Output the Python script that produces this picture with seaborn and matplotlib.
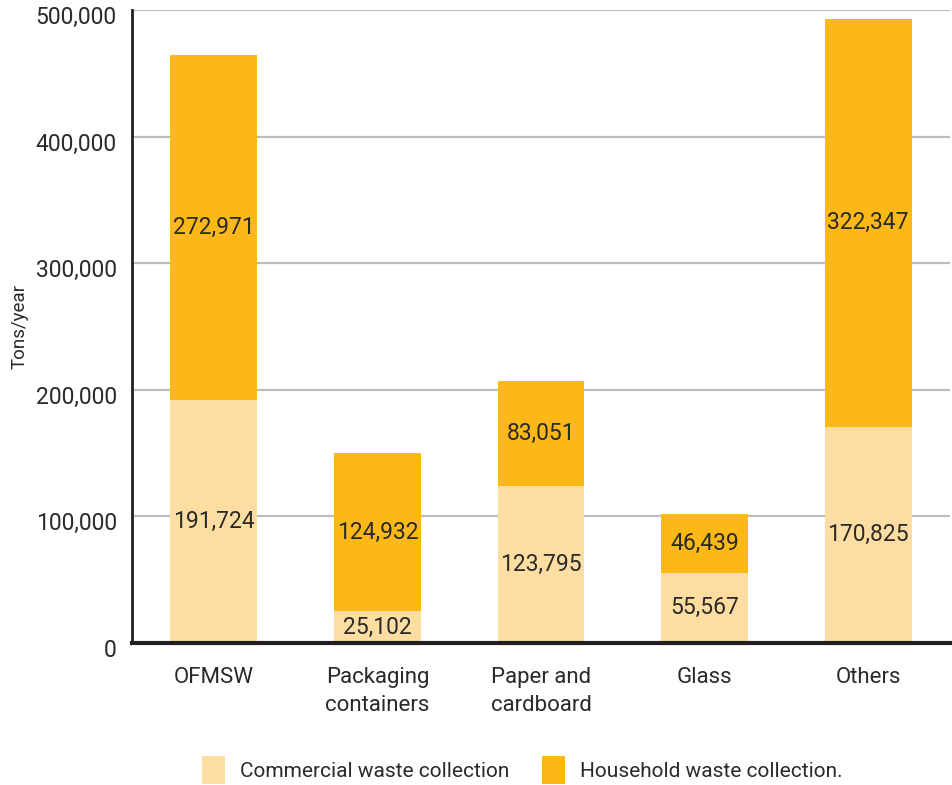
import matplotlib
matplotlib.use("Agg")
import matplotlib.pyplot as plt
import matplotlib.transforms as mtransforms
import seaborn as sns
import pandas as pd
from matplotlib.patches import Patch
from matplotlib.ticker import FuncFormatter

categories = ["OFMSW", "Packaging\ncontainers", "Paper and\ncardboard", "Glass", "Others"]
commercial = [191724, 25102, 123795, 55567, 170825]
household = [272971, 124932, 83051, 46439, 322347]
y_ticks = [0, 100000, 200000, 300000, 400000, 500000]

light = "#FDDDA1"
dark = "#FBB817"
text_color = "#2B2A29"

sns.set_theme(style="white")
plt.rcParams["font.family"] = ["Roboto", "DejaVu Sans"]

df = pd.DataFrame({
    "category": categories,
    "commercial": commercial,
    "household": household,
})
df["total"] = df["commercial"] + df["household"]

fig = plt.figure(figsize=(9.53, 7.85), dpi=100)
ax = fig.add_axes([0.1385, 0.1809, 0.8584, 0.8064])

for y in y_ticks[1:]:
    ax.axhline(y, color="#BDBDBD", linewidth=1.6, zorder=0)

sns.barplot(data=df, x="category", y="total", color=dark, width=0.53,
            saturation=1, linewidth=0, ax=ax, zorder=2)
sns.barplot(data=df, x="category", y="commercial", color=light, width=0.53,
            saturation=1, linewidth=0, ax=ax, zorder=3)

for i, (c, h) in enumerate(zip(commercial, household)):
    ax.text(i, c / 2, f"{c:,}", ha="center", va="center", fontsize=16.5,
            color=text_color, zorder=4)
    ax.text(i, c + h / 2, f"{h:,}", ha="center", va="center", fontsize=16.5,
            color=text_color, zorder=4)

ax.set_xlim(-0.5, 4.5)
ax.set_ylim(0, 500000)
ax.set_yticks(y_ticks)
ax.yaxis.set_major_formatter(FuncFormatter(lambda v, p: f"{int(v):,}"))
ax.tick_params(axis="y", length=0, pad=11, labelsize=16.5, labelcolor=text_color)
ax.tick_params(axis="x", length=0, pad=17, labelsize=16, labelcolor=text_color)
# y tick labels sit slightly below their gridlines
shift = mtransforms.ScaledTranslation(0, -5 / 100, fig.dpi_scale_trans)
for lbl in ax.get_yticklabels():
    lbl.set_transform(lbl.get_transform() + shift)
for lbl in ax.get_xticklabels():
    lbl.set_linespacing(1.45)
ax.set_xlabel("")
ax.set_ylabel("Tons/year", fontsize=13.5, color=text_color, labelpad=5)

for s in ["top", "right"]:
    ax.spines[s].set_visible(False)
ax.spines["left"].set_color("#231F20")
ax.spines["left"].set_linewidth(2)
ax.spines["bottom"].set_color("#231F20")
ax.spines["bottom"].set_linewidth(3)
ax.spines["left"].set_zorder(5)
ax.spines["bottom"].set_zorder(5)

handles = [Patch(facecolor=light, edgecolor="none", label="Commercial waste collection"),
           Patch(facecolor=dark, edgecolor="none", label="Household waste collection.")]
fig.legend(handles=handles, loc="center", bbox_to_anchor=(0.548, 0.019), ncol=2,
           frameon=False, fontsize=15, handlelength=1.1, handleheight=1.7,
           handletextpad=0.7, columnspacing=1.6, labelcolor=text_color)

fig.savefig("out.png", dpi=100)
